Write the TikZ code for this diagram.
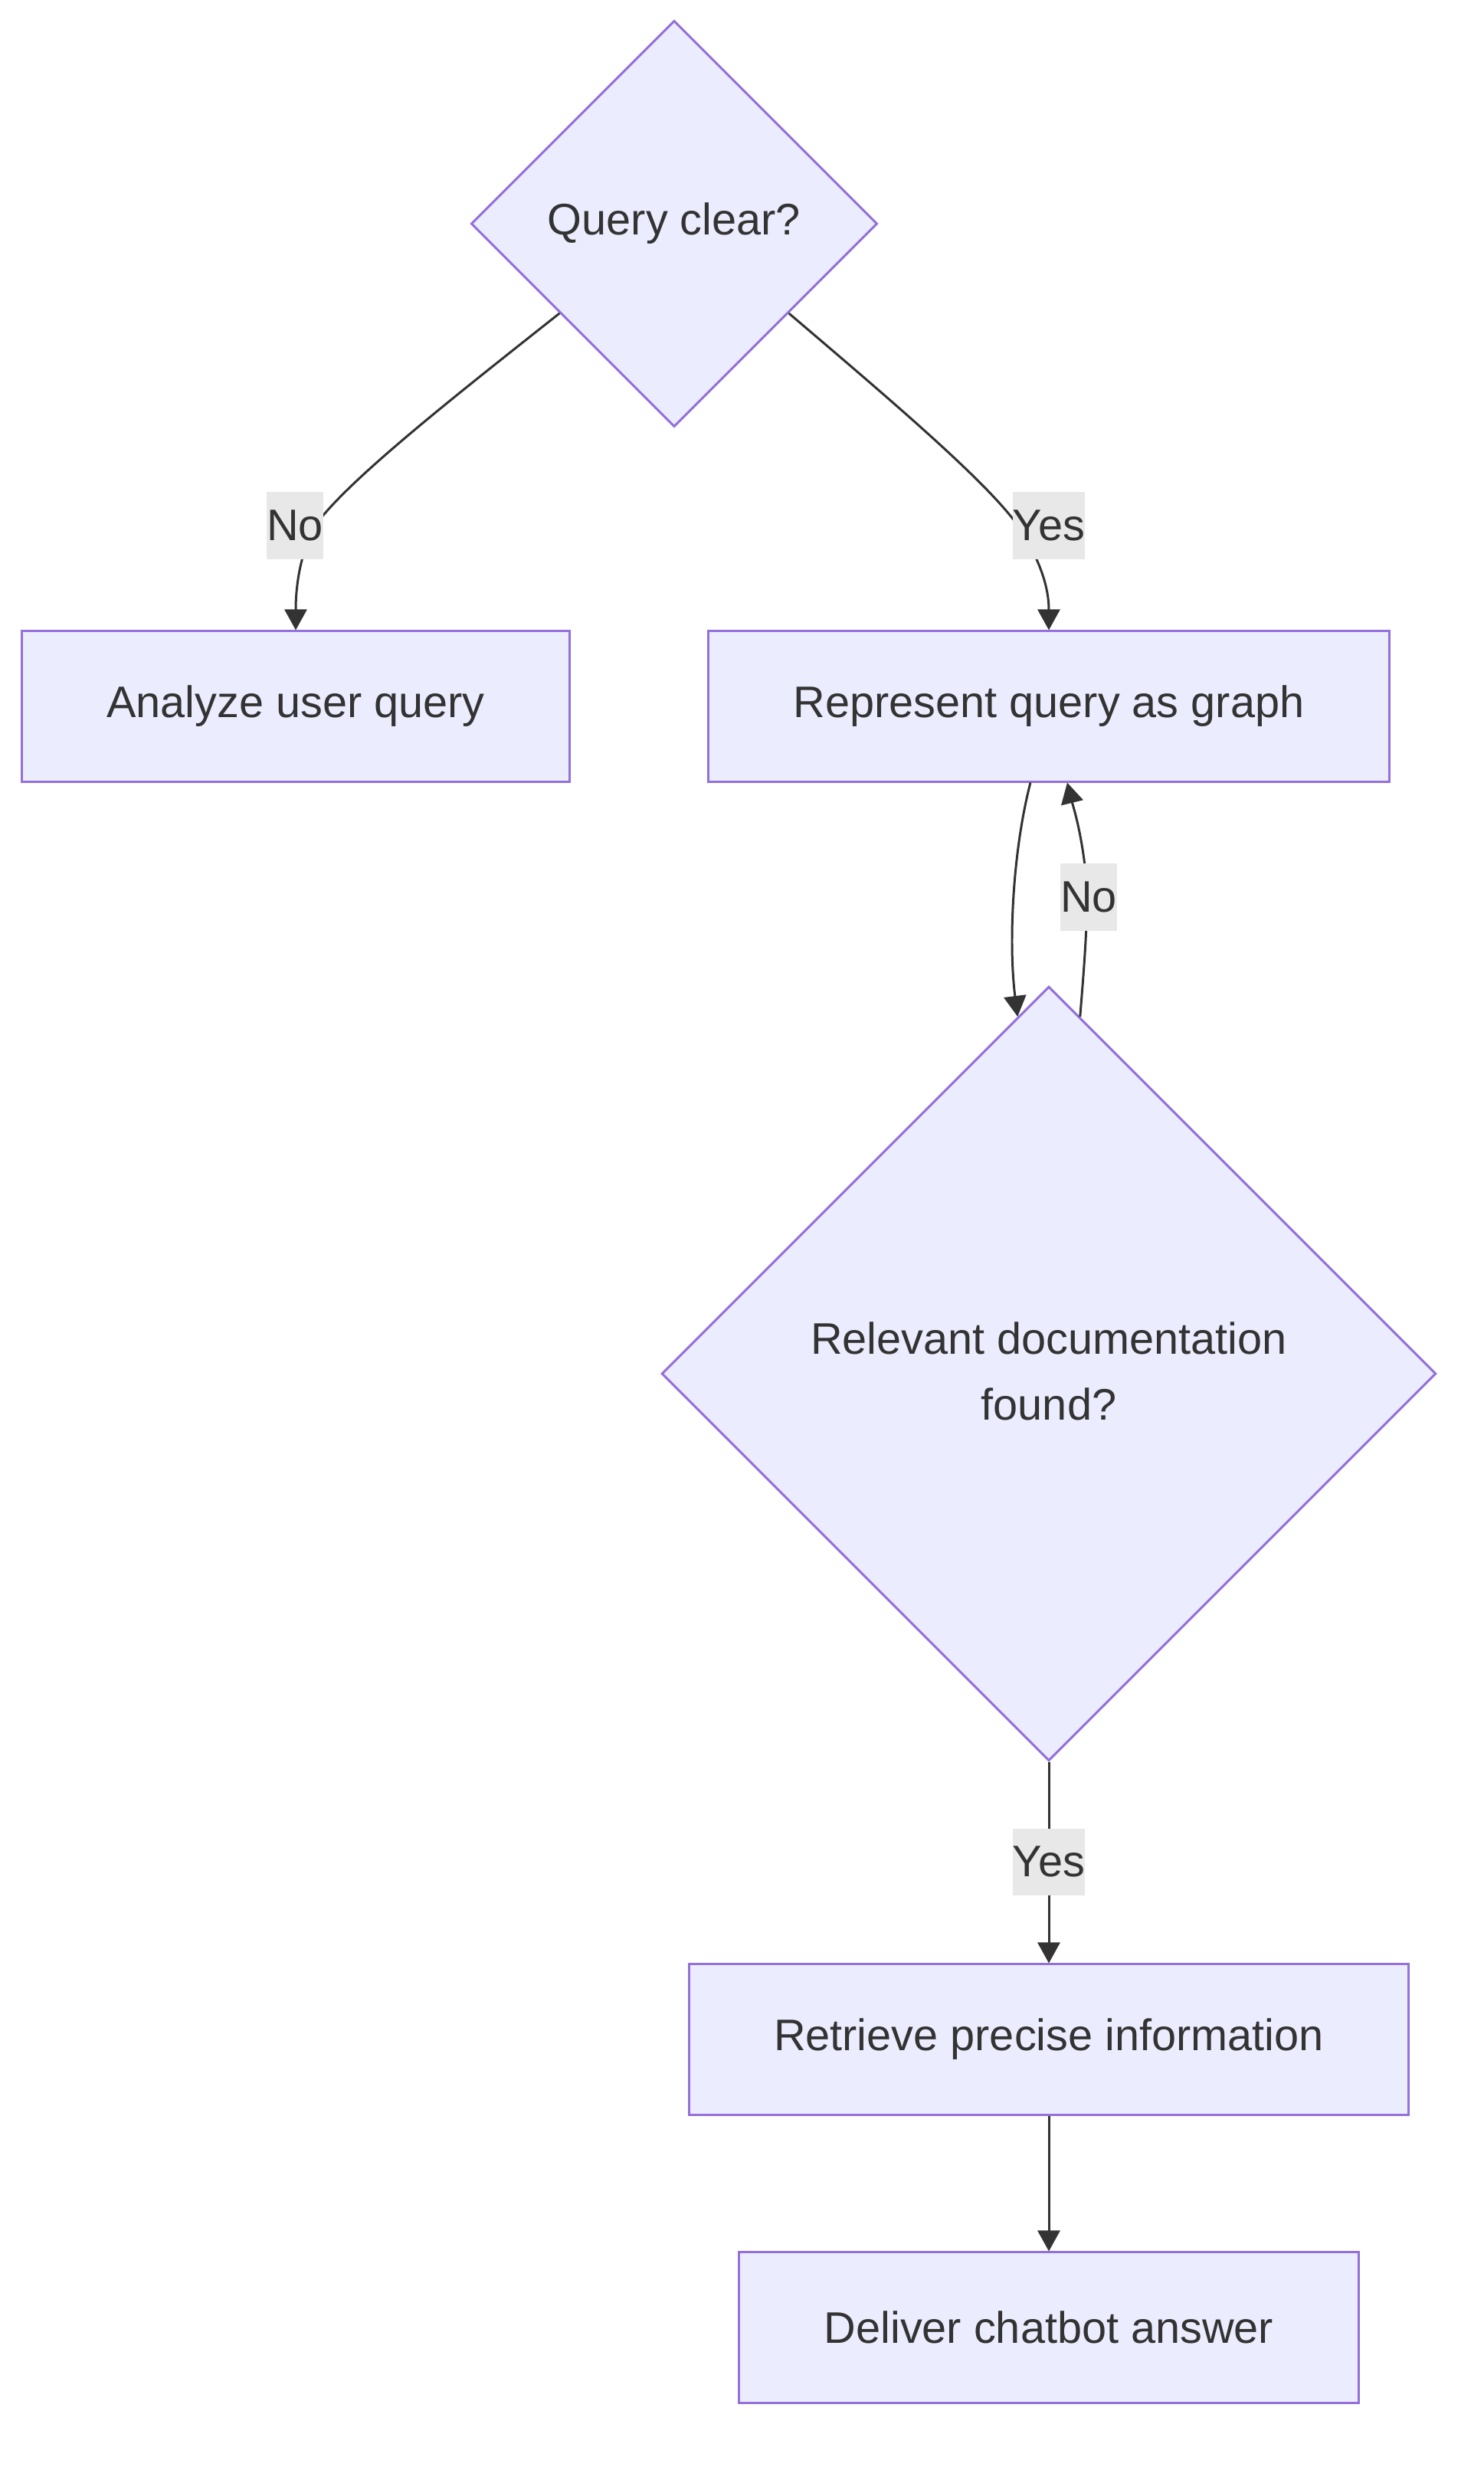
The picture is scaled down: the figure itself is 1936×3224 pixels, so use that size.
\documentclass[tikz,border=0pt]{standalone}
\usepackage{fontspec}
\setmainfont{Liberation Sans}
\usetikzlibrary{arrows.meta, shapes.geometric}
\definecolor{mfill}{HTML}{ECECFF}
\definecolor{mline}{HTML}{9370DB}
\definecolor{mtext}{HTML}{333333}
\definecolor{mlabel}{HTML}{E8E8E8}

\tikzset{
  decision/.style={diamond, aspect=1, draw=mline, fill=mfill, line width=0.85pt,
    inner sep=0pt, text=mtext, align=center, font=\fontsize{16.4}{24.4}\selectfont},
  process/.style={rectangle, draw=mline, fill=mfill, line width=0.85pt,
    minimum height=1.96cm, inner sep=0pt, text=mtext, font=\fontsize{16.4}{20}\selectfont},
  flow/.style={draw=mtext, line width=0.85pt, -{Triangle[length=0.27cm, width=0.29cm]}},
  edgelbl/.style={fill=mlabel, text=mtext, inner xsep=0pt, inner ysep=0pt,
    minimum height=0.87cm, font=\fontsize{16.4}{20}\selectfont}
}

\begin{document}
\begin{tikzpicture}[x=0.01cm, y=-0.01cm]

%% Background
\fill[white] (0,0) rectangle (1936,3224);
\useasboundingbox (0,0) rectangle (1936,3224);

%% ── Nodes ───────────────────────────────────────────────────────────────
\node[decision, minimum width=5.3cm, minimum height=5.3cm] (qclear) at (880,292) {Query clear?};
\node[process, minimum width=7.15cm] (analyze) at (386,922) {Analyze user query};
\node[process, minimum width=8.88cm] (graph) at (1369,922) {Represent query as graph};
\node[decision, minimum width=10.1cm, minimum height=10.1cm] (found) at (1369,1793)
  {\raisebox{0.1cm}{\begin{tabular}{@{}c@{}}Relevant documentation\\found?\end{tabular}}};
\node[process, minimum width=9.39cm] (retrieve) at (1369,2662) {Retrieve precise information};
\node[process, minimum width=8.08cm] (deliver) at (1369,3038) {Deliver chatbot answer};

%% ── Connectors ──────────────────────────────────────────────────────────
\draw[flow] (qclear.218) .. controls (590,520) and (450,630) .. (410,688)
  .. controls (390,728) and (386,770) .. (analyze.north);
\draw[flow] (qclear.322) .. controls (1160,520) and (1290,630) .. (1330,688)
  .. controls (1360,735) and (1369,770) .. (graph.north);
\draw[flow] ([xshift=-0.24cm]graph.south) .. controls (1322,1110) and (1316,1230) .. (found.95);
\draw[flow] (found.85) .. controls (1416,1250) and (1422,1180) .. (1416,1130)
  .. controls (1410,1080) and (1400,1050) .. ([xshift=0.24cm]graph.south);
\draw[flow] (found.south) -- (retrieve.north);
\draw[flow] (retrieve.south) -- (deliver.north);

%% ── Edge labels ─────────────────────────────────────────────────────────
\node[edgelbl] (lblno) at (385,686) {No};
\node[edgelbl] (lblyes) at (1369,686) {Yes};
\node[edgelbl] (lblloop) at (1421,1171) {No};
\node[edgelbl] (lblfound) at (1369,2430) {Yes};

\end{tikzpicture}
\end{document}
